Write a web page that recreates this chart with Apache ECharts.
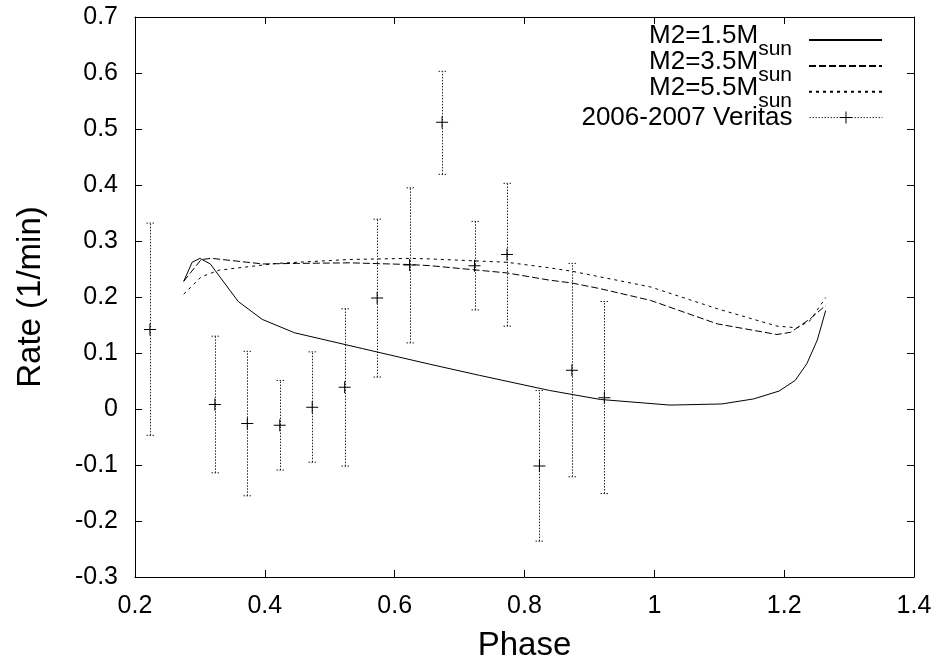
<!DOCTYPE html>
<html><head><meta charset="utf-8">
<script src="https://cdn.jsdelivr.net/npm/echarts@6/dist/echarts.min.js"></script>
<style>html,body{margin:0;padding:0;background:#fff}#c{width:940px;height:661px}</style>
</head><body><div id="c"></div>
<script>
// M2 = 1.5 Msun model curve
const phase15 = [0.275, 0.288, 0.300, 0.316, 0.359, 0.396, 0.446, 0.550, 0.654, 0.731, 0.839, 0.917, 1.024, 1.104, 1.153, 1.192, 1.217, 1.235, 1.251, 1.264];
const rate15  = [0.228, 0.262, 0.269, 0.259, 0.192, 0.160, 0.136, 0.108, 0.080, 0.060, 0.033, 0.017, 0.007, 0.009, 0.018, 0.032, 0.051, 0.081, 0.123, 0.176];
// M2 = 3.5 Msun model curve
const phase35 = [0.275, 0.302, 0.318, 0.397, 0.449, 0.531, 0.623, 0.654, 0.773, 0.839, 0.873, 0.916, 0.994, 1.097, 1.189, 1.210, 1.240, 1.264];
const rate35  = [0.228, 0.267, 0.269, 0.259, 0.260, 0.261, 0.258, 0.256, 0.243, 0.230, 0.225, 0.215, 0.194, 0.152, 0.133, 0.137, 0.161, 0.185];
// M2 = 5.5 Msun model curve
const phase55 = [0.275, 0.302, 0.330, 0.418, 0.531, 0.623, 0.654, 0.773, 0.839, 0.873, 0.994, 1.097, 1.189, 1.220, 1.240, 1.264];
const rate55  = [0.205, 0.236, 0.248, 0.260, 0.267, 0.269, 0.268, 0.262, 0.252, 0.246, 0.218, 0.179, 0.148, 0.145, 0.158, 0.199];
// 2006-2007 Veritas data points with error bars
const phaseVeritas = [0.223, 0.323, 0.373, 0.423, 0.473, 0.523, 0.573, 0.623, 0.673, 0.723, 0.773, 0.823, 0.873, 0.923];
const rateVeritas  = [0.142, 0.008, -0.026, -0.029, 0.003, 0.039, 0.198, 0.257, 0.512, 0.256, 0.276, -0.102, 0.069, 0.020];
const errLow       = [-0.047, -0.114, -0.155, -0.109, -0.095, -0.102, 0.057, 0.118, 0.419, 0.177, 0.148, -0.236, -0.121, -0.151];
const errHigh      = [0.332, 0.130, 0.103, 0.051, 0.102, 0.179, 0.339, 0.395, 0.603, 0.335, 0.403, 0.033, 0.260, 0.192];

const seriesNames = ['M2=1.5Msun', 'M2=3.5Msun', 'M2=5.5Msun', '2006-2007 Veritas'];
const xLabel = 'Phase';
const yLabel = 'Rate (1/min)';

const FONT = "'Liberation Sans', Arial, Helvetica, sans-serif";
const zip = (a, b) => a.map((v, i) => [v, b[i]]);
const fmt = v => String(Math.round(v * 10) / 10);
const crossPath = 'path://M5.5,0h1v12h-1zM0,5.5h12v1h-12z';

const chart = echarts.init(document.getElementById('c'), null, {renderer: 'canvas'});

const legendTops = [20.6, 46.6, 72.3, 104.6];
const legendFormatter = name => {
  if (/Msun$/.test(name)) return '{a|' + name.slice(0, -3) + '}{s|sun}';
  return '{b|' + name + '}';
};
const legendRich = {
  a: {fontSize: 26, fontFamily: FONT, color: '#000', lineHeight: 40, padding: [0, 0, 8, 0]},
  s: {fontSize: 21, fontFamily: FONT, color: '#000', lineHeight: 40, padding: [18, 12, 0, 0]},
  b: {fontSize: 26, fontFamily: FONT, color: '#000', lineHeight: 40, padding: [0, 12, 0, 0]}
};

const axisCommon = {
  axisLine: {show: true, onZero: false, lineStyle: {color: '#000', width: 1}},
  axisTick: {show: true, inside: true, length: 7, lineStyle: {color: '#000', width: 1}},
  splitLine: {show: false}
};

const option = {
  animation: false,
  backgroundColor: '#fff',
  grid: {left: 135, right: 26, top: 17, bottom: 84, containLabel: false, outerBoundsMode: 'none'},
  xAxis: [
    Object.assign({
      type: 'value', min: 0.2, max: 1.4, interval: 0.2, position: 'bottom',
      axisLabel: {fontSize: 25, color: '#000', fontFamily: FONT, margin: 17, formatter: fmt},
      name: xLabel, nameLocation: 'middle', nameGap: 52,
      nameTextStyle: {fontSize: 33, color: '#000', fontFamily: FONT}
    }, axisCommon),
    Object.assign({
      type: 'value', min: 0.2, max: 1.4, interval: 0.2, position: 'top',
      axisLabel: {show: false}
    }, axisCommon)
  ],
  yAxis: [
    Object.assign({
      type: 'value', min: -0.3, max: 0.7, interval: 0.1, position: 'left',
      axisLabel: {fontSize: 25, color: '#000', fontFamily: FONT, margin: 17, formatter: fmt},
      name: yLabel, nameLocation: 'middle', nameGap: 88,
      nameTextStyle: {fontSize: 33, color: '#000', fontFamily: FONT}
    }, axisCommon),
    Object.assign({
      type: 'value', min: -0.3, max: 0.7, interval: 0.1, position: 'right',
      axisLabel: {show: false}
    }, axisCommon)
  ],
  legend: seriesNames.map((n, i) => ({
    data: [i === 3
      ? {name: n, lineStyle: {opacity: 1, type: [1.5, 1.5], color: '#333', width: 1}}
      : {name: n, itemStyle: {opacity: 0}}],
    orient: 'vertical', align: 'right', right: 57, top: legendTops[i],
    itemWidth: 73, itemHeight: 15, padding: 0, selectedMode: false,
    formatter: legendFormatter,
    textStyle: {rich: legendRich, fontFamily: FONT, fontSize: 26, color: '#000'}
  })),
  series: [
    {
      name: seriesNames[0], type: 'line', data: zip(phase15, rate15), symbol: 'none',
      lineStyle: {color: '#000', width: 1, type: 'solid'}, itemStyle: {color: '#000'}
    },
    {
      name: seriesNames[1], type: 'line', data: zip(phase35, rate35), symbol: 'none',
      lineStyle: {color: '#000', width: 1, type: [7, 3]}, itemStyle: {color: '#000'}
    },
    {
      name: seriesNames[2], type: 'line', data: zip(phase55, rate55), symbol: 'none',
      lineStyle: {color: '#000', width: 1, type: [3, 4]}, itemStyle: {color: '#000'}
    },
    {
      name: 'errorbars', type: 'custom',
      data: phaseVeritas.map((p, i) => [p, errLow[i], errHigh[i]]),
      encode: {x: 0, y: [1, 2]},
      renderItem: (params, api) => {
        const x = api.value(0);
        const pLo = api.coord([x, api.value(1)]);
        const pHi = api.coord([x, api.value(2)]);
        const cx = Math.round(pLo[0]) + 0.5;
        const style = {stroke: '#222', lineWidth: 1, lineDash: [1.5, 1.5], fill: null};
        const cw = 4;
        return {
          type: 'group',
          children: [
            {type: 'line', shape: {x1: cx, y1: pLo[1], x2: cx, y2: pHi[1]}, style: style},
            {type: 'line', shape: {x1: cx - cw, y1: pLo[1], x2: cx + cw, y2: pLo[1]}, style: style},
            {type: 'line', shape: {x1: cx - cw, y1: pHi[1], x2: cx + cw, y2: pHi[1]}, style: style}
          ]
        };
      },
      z: 3
    },
    {
      name: seriesNames[3], type: 'line', data: zip(phaseVeritas, rateVeritas),
      symbol: crossPath, symbolSize: 12, showSymbol: true,
      lineStyle: {opacity: 0, width: 0}, itemStyle: {color: '#000'}, z: 4
    }
  ]
};
chart.setOption(option);
</script>
</body></html>
